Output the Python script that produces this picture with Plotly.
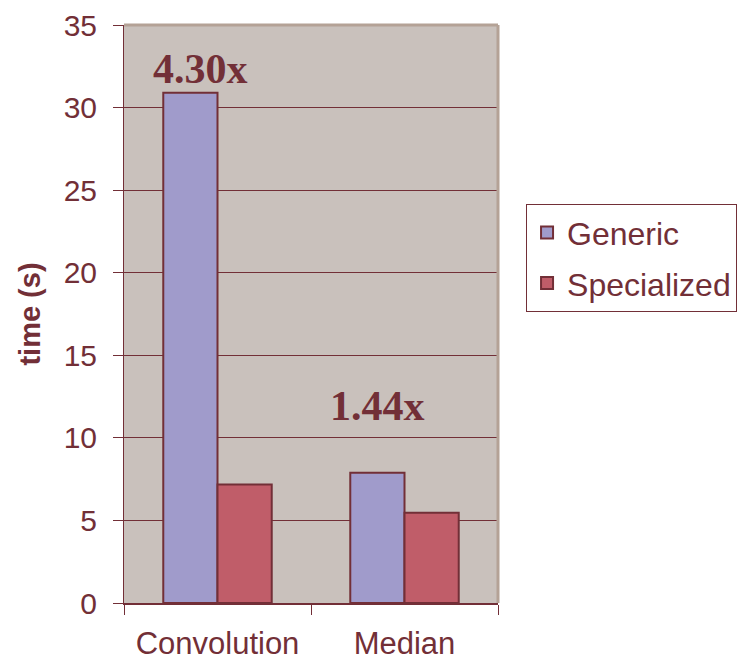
import plotly.graph_objects as go

# Run time per filter, generic vs. specialized implementation
categories = ["Convolution", "Median"]
generic_times = [30.9, 7.88]
specialized_times = [7.18, 5.47]
speedup_labels = ["4.30x", "1.44x"]
y_ticks = [0, 5, 10, 15, 20, 25, 30, 35]

MAROON = "#722F37"
TEXT = "#722F37"
PLOT_BG = "#C9C1BC"
FRAME = "#B4A296"
FONT = "Liberation Sans, Arial, sans-serif"

fig = go.Figure()
fig.add_trace(go.Bar(
    x=categories, y=generic_times, name="Generic",
    legendgroup="g", marker=dict(color="#A09BCB", line=dict(color=MAROON, width=2)),
))
fig.add_trace(go.Bar(
    x=categories, y=specialized_times, name="Specialized",
    legendgroup="s", marker=dict(color="#C05D69", line=dict(color=MAROON, width=2)),
))

# Speed-up labels above the generic bars
label_shift = [(-17, -1), (-27, 42)]
for i, (txt, val) in enumerate(zip(speedup_labels, generic_times)):
    dx, dy = label_shift[i]
    fig.add_annotation(
        x=categories[i], y=val, text=f"<b>{txt}</b>", showarrow=False,
        xshift=dx, yshift=dy, yanchor="bottom",
        font=dict(family="Liberation Serif, Times New Roman, serif", size=42, color=TEXT),
    )

# Light frame on the top and right of the plot area
fig.add_shape(type="line", xref="paper", yref="paper", x0=0, x1=1, y0=1, y1=1,
              line=dict(color=FRAME, width=3))
fig.add_shape(type="line", xref="paper", yref="paper", x0=1, x1=1, y0=0, y1=1,
              line=dict(color=FRAME, width=3))

fig.update_layout(
    width=738, height=665,
    margin=dict(l=124, r=240, t=25, b=62, autoexpand=False),
    paper_bgcolor="white", plot_bgcolor=PLOT_BG,
    barmode="group", bargap=0.42, bargroupgap=0,
    font=dict(family=FONT, color=TEXT, size=31),
    showlegend=True,
    legend=dict(
        x=1.075, y=0.69, xanchor="left", yanchor="top",
        bordercolor=MAROON, borderwidth=1, bgcolor="white",
        font=dict(size=32, color=TEXT), traceorder="grouped", tracegroupgap=6,
        entrywidth=250, entrywidthmode="pixels",
    ),
    xaxis=dict(
        type="category", tickson="boundaries", ticks="outside", ticklen=10,
        tickcolor=MAROON, showline=True, linecolor=MAROON, linewidth=2,
        showgrid=False, tickfont=dict(size=31, color=TEXT), ticklabelstandoff=12,
    ),
    yaxis=dict(
        range=[0, 35], tickvals=y_ticks, ticks="outside", ticklen=10,
        tickcolor=MAROON, showline=True, linecolor=MAROON, linewidth=1,
        showgrid=True, gridcolor=MAROON, gridwidth=1, zeroline=False,
        tickfont=dict(size=30, color=TEXT), ticklabelstandoff=10,
        title=dict(text="<b>time (s)</b>", font=dict(size=29, color=TEXT), standoff=14),
    ),
)

fig.write_html("out.html")
